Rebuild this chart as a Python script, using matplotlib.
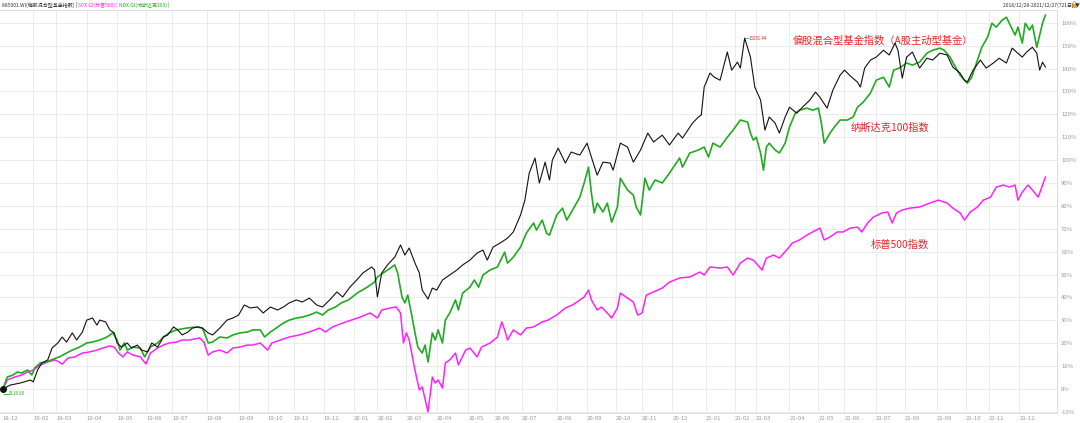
import matplotlib
matplotlib.use("Agg")
import matplotlib.pyplot as plt
from matplotlib.patches import Rectangle, Arc

plt.rcParams['font.family'] = ['Noto Sans CJK SC', 'DejaVu Sans']

# ---- data (percent change since 2018-12-28, x = trading-day index) ----
fund_days = [0, 5, 12, 19, 21, 24, 27, 31, 34, 38, 41, 44, 48, 51, 55, 58, 62, 65, 67, 71, 74, 77, 79, 82, 86, 89, 93, 96, 100,
             103, 107, 111, 114, 118, 121, 124, 128, 131, 135, 138, 142, 145, 150, 155, 159, 163, 167, 171, 176, 180, 185, 190,
             194, 198, 203, 207, 212, 217, 221, 226, 231, 235, 240, 246, 249, 255, 257, 259, 262, 266, 271, 275, 278, 281, 285,
             288, 290, 294, 297, 300, 304, 309, 314, 318, 323, 328, 332, 335, 339, 344, 349, 353, 358, 361, 364, 368, 371, 375,
             378, 380, 384, 389, 393, 399, 404, 407, 411, 415, 420, 422, 427, 432, 436, 441, 446, 450, 456, 461, 467, 470, 477,
             481, 483, 485, 489, 492, 496, 501, 504, 508, 510, 513, 517, 520, 524, 527, 530, 534, 537, 541, 544, 549, 553, 558,
             562, 565, 570, 574, 579, 582, 587, 591, 593, 596, 600, 604, 609, 613, 617, 619, 622, 625, 629, 634, 639, 643, 648,
             653, 657, 662, 665, 667, 671, 676, 680, 685, 689, 694, 698, 701, 705, 708, 712, 715, 717, 719, 721]
fund_pct = [0, 1.7, 2.6, 3.9, 3.1, 8.3, 11.4, 12.7, 17.9, 20.1, 22.7, 20.5, 24.5, 21.4, 24.9, 30.1, 31.0, 27.9, 30.1, 29.3,
            25.8, 24.5, 20.1, 18.3, 20.1, 17.9, 19.2, 17.0, 16.2, 20.1, 18.3, 22.7, 23.6, 27.1, 25.8, 23.6, 24.9, 26.6, 27.1,
            26.6, 24.5, 23.6, 26.6, 30.1, 31.0, 32.3, 36.7, 35.4, 35.8, 33.2, 35.8, 34.5, 35.8, 37.6, 38.9, 38.0, 39.7, 36.7,
            35.8, 38.9, 42.4, 40.2, 44.5, 48.5, 50.7, 53.3, 52.0, 40.2, 50.7, 54.2, 57.6, 62.9, 58.5, 61.6, 55.0, 50.7, 43.2,
            39.3, 44.1, 43.2, 47.6, 49.8, 52.0, 54.2, 56.3, 59.4, 60.7, 56.3, 62.0, 63.8, 65.9, 68.6, 76.0, 82.5, 94.3, 100.9,
            90.0, 99.1, 91.3, 100.0, 105.2, 98.7, 103.5, 102.2, 107.4, 101.3, 93.4, 99.1, 98.7, 95.6, 107.4, 105.7, 99.1,
            104.4, 111.8, 107.9, 110.9, 106.6, 111.8, 109.6, 116.2, 118.8, 119.7, 131.9, 138.0, 136.2, 134.9, 147.2, 139.3,
            142.8, 140.2, 153.3, 145.0, 131.9, 126.2, 113.1, 118.8, 116.2, 111.8, 118.8, 123.1, 120.5, 123.1, 126.2, 129.7,
            127.5, 122.7, 130.6, 137.1, 139.3, 136.2, 134.1, 131.9, 140.2, 143.7, 145.0, 148.0, 145.9, 151.1, 148.0, 135.8,
            145.0, 147.2, 140.2, 144.5, 143.7, 146.7, 145.9, 140.6, 138.0, 134.9, 134.1, 139.3, 143.7, 140.2, 142.4, 144.5,
            142.4, 148.9, 147.2, 145.0, 147.2, 149.3, 146.7, 139.3, 142.8, 140.6]

ndx_days = [0, 3, 7, 10, 13, 17, 20, 22, 26, 30, 35, 39, 44, 48, 53, 58, 62, 67, 72, 76, 79, 81, 84, 86, 90, 95, 98, 102,
            107, 111, 115, 120, 127, 134, 138, 142, 145, 150, 155, 159, 164, 169, 173, 178, 181, 185, 189, 194, 198, 203, 207,
            212, 217, 221, 225, 230, 234, 239, 245, 252, 257, 259, 263, 268, 271, 273, 276, 278, 280, 283, 285, 287, 290, 292,
            294, 297, 299, 301, 304, 306, 309, 313, 315, 318, 323, 326, 329, 332, 337, 342, 345, 347, 349, 353, 358, 362, 367,
            369, 373, 376, 378, 383, 387, 390, 394, 399, 402, 405, 407, 409, 411, 415, 418, 421, 425, 427, 432, 436, 438, 441,
            444, 447, 451, 456, 461, 468, 470, 475, 481, 485, 488, 491, 496, 501, 505, 510, 515, 517, 519, 521, 524, 526, 528,
            530, 534, 537, 541, 544, 548, 551, 556, 560, 564, 566, 568, 572, 575, 579, 584, 588, 591, 595, 600, 604, 609, 613,
            616, 620, 625, 629, 634, 639, 643, 648, 651, 655, 658, 662, 665, 667, 670, 674, 677, 681, 684, 687, 691, 694, 696,
            700, 702, 705, 707, 710, 712, 715, 717, 719, 721]
ndx_pct = [0, 5.2, 6.1, 7.4, 7.0, 8.3, 6.1, 9.2, 11.4, 11.8, 13.1, 14.0, 15.7, 17.0, 18.3, 20.1, 20.5, 21.4, 22.7, 24.5,
           21.4, 17.0, 20.1, 17.0, 18.3, 17.9, 14.0, 18.3, 20.1, 22.7, 24.5, 25.8, 26.6, 27.1, 26.6, 20.1, 20.5, 22.7, 22.3,
           23.6, 24.5, 24.9, 25.8, 25.8, 22.7, 24.9, 26.6, 28.8, 30.1, 31.0, 31.4, 32.3, 33.6, 32.3, 34.5, 35.8, 37.6, 38.9,
           41.9, 44.5, 46.7, 48.9, 50.7, 52.8, 54.2, 50.7, 40.2, 37.6, 41.0, 31.4, 24.5, 18.3, 15.7, 19.2, 11.8, 24.5, 21.4,
           25.8, 20.1, 30.1, 33.2, 38.9, 34.5, 41.9, 44.5, 47.6, 44.5, 49.8, 52.0, 53.3, 57.2, 59.8, 55.0, 57.6, 62.0, 68.1,
           72.5, 69.4, 73.8, 68.1, 67.2, 76.0, 79.0, 73.8, 78.2, 83.8, 90.0, 96.9, 85.6, 76.9, 81.2, 77.3, 81.2, 72.9, 79.5,
           92.1, 86.9, 84.7, 79.5, 76.0, 92.1, 86.9, 91.3, 90.0, 94.3, 100.9, 96.9, 103.1, 104.4, 105.7, 101.3, 107.4, 105.7,
           110.0, 113.1, 117.5, 116.6, 111.8, 108.7, 110.0, 103.1, 95.6, 105.7, 107.4, 104.4, 103.1, 107.4, 114.4, 120.5,
           121.8, 122.7, 121.8, 122.7, 116.2, 107.4, 111.8, 114.4, 117.5, 117.5, 118.8, 123.1, 125.3, 129.3, 134.9, 136.2,
           131.9, 139.3, 140.2, 142.4, 141.5, 142.8, 146.7, 148.0, 148.9, 148.0, 145.0, 141.5, 137.1, 134.9, 133.6, 136.2,
           143.7, 149.3, 153.7, 159.8, 158.1, 161.1, 162.4, 159.8, 154.6, 158.1, 151.1, 159.8, 156.8, 159.0, 149.3, 154.6,
           159.8, 163.3]

spx_days = [0, 3, 8, 13, 17, 21, 26, 31, 36, 39, 41, 45, 50, 52, 55, 60, 65, 69, 74, 77, 80, 83, 86, 90, 95, 99, 102, 107,
            111, 115, 120, 124, 129, 136, 139, 142, 145, 150, 155, 159, 164, 169, 173, 178, 183, 186, 192, 198, 205, 212, 219,
            223, 228, 235, 241, 247, 254, 259, 262, 268, 272, 275, 277, 279, 281, 284, 286, 288, 290, 294, 297, 299, 301, 304,
            306, 309, 313, 315, 320, 323, 328, 331, 337, 342, 345, 347, 349, 353, 358, 362, 367, 373, 377, 383, 389, 394, 399,
            402, 405, 407, 411, 414, 418, 421, 425, 427, 432, 436, 439, 442, 445, 450, 456, 461, 468, 475, 482, 485, 489, 496,
            501, 505, 510, 515, 519, 522, 525, 528, 533, 537, 542, 546, 551, 556, 560, 565, 568, 572, 577, 581, 586, 591, 594,
            598, 602, 608, 612, 615, 618, 622, 627, 634, 641, 647, 653, 657, 662, 665, 669, 674, 678, 683, 687, 692, 696, 700,
            702, 705, 709, 712, 716, 719, 721]
spx_pct = [0, 3.9, 5.2, 6.1, 7.4, 8.3, 10.5, 11.8, 12.7, 11.8, 10.9, 13.5, 14.0, 14.8, 15.7, 16.2, 17.0, 17.9, 18.8, 18.3,
           15.7, 14.0, 16.2, 14.8, 14.0, 10.9, 15.7, 17.9, 19.2, 20.1, 20.5, 21.4, 21.4, 22.3, 20.5, 14.8, 16.2, 17.0, 15.7,
           17.9, 18.3, 19.2, 19.2, 20.1, 17.0, 20.1, 21.4, 22.7, 23.6, 24.9, 26.6, 24.9, 27.1, 28.8, 30.1, 31.4, 33.2, 31.0,
           34.5, 35.4, 35.8, 33.2, 20.1, 24.5, 21.4, 11.4, 5.2, -0.4, 0.9, -10.0, 5.2, 2.6, 3.9, 0.4, 11.4, 12.7, 15.7, 10.5,
           17.0, 17.9, 14.0, 18.3, 20.1, 22.7, 29.3, 25.8, 21.4, 25.8, 23.6, 26.6, 27.1, 29.3, 30.1, 32.3, 35.4, 36.7, 38.9,
           40.2, 43.2, 38.9, 34.5, 35.8, 33.2, 31.0, 35.4, 41.9, 39.7, 38.0, 32.3, 33.2, 41.0, 42.4, 44.1, 46.7, 48.5, 48.9,
           51.1, 49.8, 53.3, 52.8, 53.3, 49.8, 55.0, 57.2, 56.3, 54.2, 52.0, 57.2, 58.5, 57.2, 60.7, 63.8, 65.1, 67.2, 68.6,
           70.3, 65.1, 66.4, 68.6, 68.6, 70.3, 70.7, 68.6, 72.5, 75.1, 76.9, 77.3, 72.5, 76.9, 78.2, 79.0, 79.5, 81.2, 82.5,
           81.2, 79.0, 76.9, 73.8, 77.3, 79.5, 82.5, 83.8, 88.2, 89.1, 88.2, 89.1, 82.5, 86.0, 89.1, 86.9, 83.8, 89.1, 92.6]

month_ticks = [0, 21, 37, 58, 79, 99, 117, 141, 163, 183, 201, 222, 243, 259, 279, 300, 322, 340, 359, 383, 404, 424,
               442, 463, 486, 506, 521, 544, 564, 582, 604, 624, 646, 666, 682, 703]
month_labels = ['18-12', '19-02', '19-03', '19-04', '19-05', '19-06', '19-07', '19-08', '19-09', '19-10', '19-11', '19-12',
                '20-01', '20-02', '20-03', '20-04', '20-05', '20-06', '20-07', '20-08', '20-09', '20-10', '20-11', '20-12',
                '21-01', '21-02', '21-03', '21-04', '21-05', '21-06', '21-07', '21-08', '21-09', '21-10', '21-11', '21-12']
y_ticks = [-10, 0, 10, 20, 30, 40, 50, 60, 70, 80, 90, 100, 110, 120, 130, 140, 150, 160]
y_labels = [f'{v}%' for v in y_ticks]

fund_max_label = '13231.44'
fund_start_label = '5118.80'

BLACK = '#111111'
GREEN = '#22aa22'
MAGENTA = '#ff22ff'
RED = '#e8262c'
GRID = '#ececec'
TICKC = '#9a9a9a'

fig = plt.figure(figsize=(10.8, 4.23), dpi=100)
ax = fig.add_axes([0.0, 0.0236, 0.9787, 0.9524])

ax.plot(spx_days, spx_pct, color=MAGENTA, lw=1.1, zorder=3)
ax.plot(ndx_days, ndx_pct, color=GREEN, lw=1.2, zorder=4)
ax.plot(fund_days, fund_pct, color=BLACK, lw=0.8, zorder=5)

ax.set_xlim(-2, 729)
ax.set_ylim(-10.5, 165.5)

ax.set_xticks(month_ticks)
ax.set_xticklabels(month_labels, fontsize=4.3, color=TICKC, ha='left')
ax.yaxis.tick_right()
ax.set_yticks(y_ticks)
ax.set_yticklabels(y_labels, fontsize=4.3, color=TICKC)
ax.tick_params(axis='x', length=0, pad=2)
ax.tick_params(axis='y', length=0, pad=3)
ax.grid(True, color=GRID, lw=0.7)
gl = ax.xaxis.get_gridlines()
gl[0].set_visible(False)
ax.set_axisbelow(True)
ax.spines['left'].set_visible(False)
for s in ['right', 'bottom', 'top']:
    ax.spines[s].set_color('#dddddd')
    ax.spines[s].set_linewidth(0.7)

# markers / small labels
ax.plot([fund_days[0]], [fund_pct[0]], 'o', color=BLACK, ms=4, zorder=6)
imax = fund_pct.index(max(fund_pct))
ax.plot([fund_days[imax], fund_days[imax] + 2], [fund_pct[imax], fund_pct[imax]], color='#3399cc', lw=0.6, zorder=6)
ax.text(fund_days[imax] + 2.5, fund_pct[imax], fund_max_label, fontsize=3.2, color=RED, va='center', ha='left')
ax.plot([fund_days[0] + 1, fund_days[0] + 4], [fund_pct[0] - 2, fund_pct[0] - 2], color=GREEN, lw=0.6)
ax.text(fund_days[0] + 4.5, fund_pct[0] - 2, fund_start_label, fontsize=3.2, color=GREEN, va='center', ha='left')

# annotations
ax.text(546, 152.4, '偏股混合型基金指数（A股主动型基金）', fontsize=7.4, color=RED, va='center', ha='left')
ax.text(586, 114.0, '纳斯达克100指数', fontsize=7.4, color=RED, va='center', ha='left')
ax.text(600, 62.9, '标普500指数', fontsize=7.4, color=RED, va='center', ha='left')

# header
hdr_y = 0.988
t1 = fig.text(0.002, hdr_y, '885001.WI(偏股混合型基金指数) | ', fontsize=3.6, color='#333333', va='center', ha='left')
fig.canvas.draw()
r = fig.canvas.get_renderer()
bb = t1.get_window_extent(r)
x2 = bb.x1 / fig.bbox.width
t2 = fig.text(x2, hdr_y, 'SPX.GI(标普500) | ', fontsize=3.6, color=MAGENTA, va='center', ha='left')
bb2 = t2.get_window_extent(r)
x3 = bb2.x1 / fig.bbox.width
fig.text(x3, hdr_y, 'NDX.GI(纳斯达克100) |', fontsize=3.6, color=GREEN, va='center', ha='left')
fig.text(0.9285, hdr_y, '2018/12/28-2021/12/27(721日) ▼', fontsize=3.6, color='#333333', va='center', ha='left')
# small lock icon drawn as shapes
fig.patches.append(Rectangle((1072 / 1080, 1 - 8 / 423), 5 / 1080, 4 / 423, transform=fig.transFigure,
                             facecolor='#f0a830', edgecolor='none'))
fig.patches.append(Arc((1074.5 / 1080, 1 - 4 / 423), 3 / 1080, 5 / 423, theta1=0, theta2=180,
                       transform=fig.transFigure, color='#f0a830', lw=0.6))

fig.savefig('out.png', dpi=100, facecolor='white')
